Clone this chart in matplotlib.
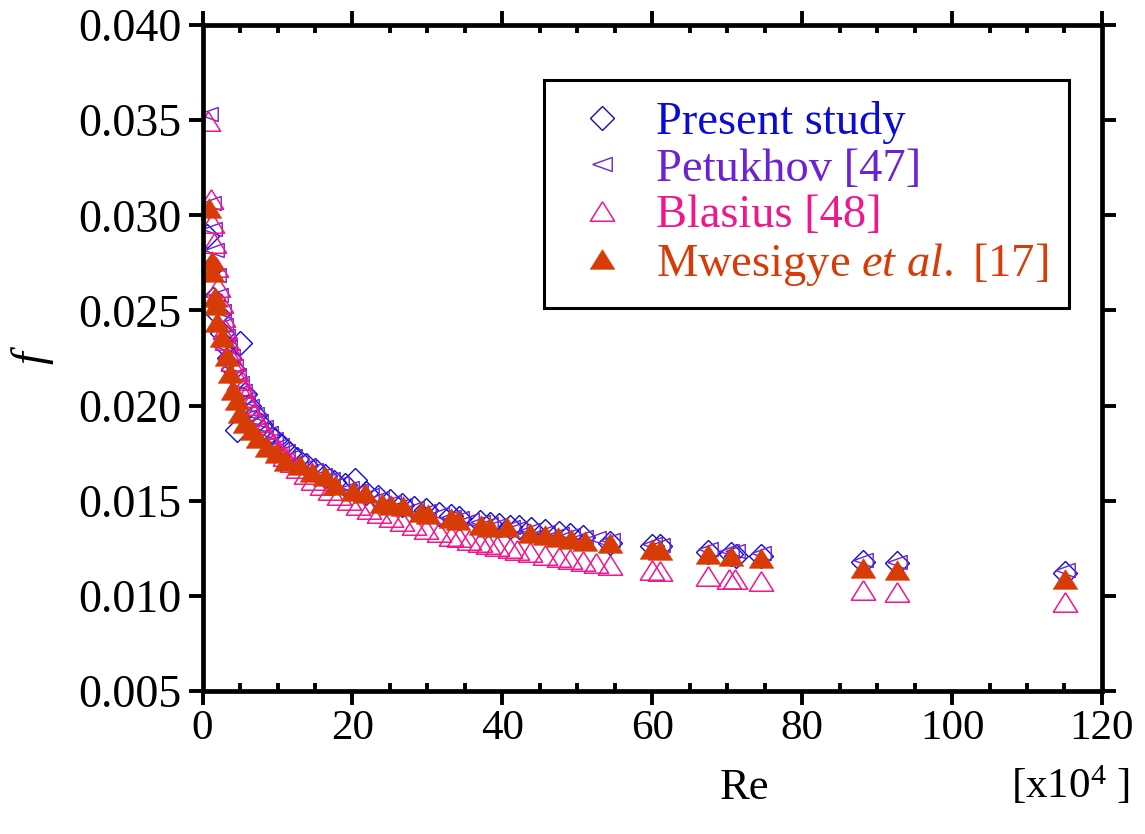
import matplotlib
matplotlib.use('Agg')
import matplotlib.pyplot as plt
from matplotlib.ticker import MultipleLocator

plt.rcParams['font.family'] = ['Liberation Serif', 'DejaVu Serif']
plt.rcParams['mathtext.fontset'] = 'custom'
plt.rcParams['mathtext.rm'] = 'Liberation Serif'
plt.rcParams['mathtext.it'] = 'Liberation Serif:italic'

# Re [x10^4] at which the correlations are evaluated
re_corr = [0.67, 1.1, 1.3, 1.5, 1.8, 2.1, 2.4, 2.7, 3.0, 3.3, 3.6, 4.0, 4.4, 4.8, 5.2,
           5.7, 6.2, 6.8, 7.4, 8.0, 8.7, 9.4, 10.2, 11.0, 11.9, 12.8, 13.8, 14.8, 15.9,
           17.0, 18.2, 19.5, 20.8, 22.2, 23.6, 25.1, 26.6, 28.2, 29.8, 31.5, 33.2, 34.2,
           35.5, 37.0, 38.1, 39.3, 41.0, 42.0, 43.7, 45.7, 47.5, 49.0, 50.7, 52.5, 54.3,
           60.0, 61.0, 67.5, 70.3, 71.0, 74.5, 88.1, 92.7, 115.1]
f_petukhov = [0.03534, 0.03066, 0.02929, 0.02818, 0.02687, 0.02583, 0.02497, 0.02426,
              0.02364, 0.02310, 0.02263, 0.02207, 0.02158, 0.02116, 0.02077, 0.02034,
              0.01996, 0.01956, 0.01920, 0.01887, 0.01854, 0.01823, 0.01792, 0.01763,
              0.01735, 0.01709, 0.01682, 0.01659, 0.01635, 0.01613, 0.01591, 0.01569,
              0.01549, 0.01530, 0.01512, 0.01494, 0.01477, 0.01461, 0.01445, 0.01430,
              0.01416, 0.01408, 0.01399, 0.01388, 0.01380, 0.01372, 0.01362, 0.01356,
              0.01346, 0.01335, 0.01325, 0.01318, 0.01310, 0.01302, 0.01294, 0.01271,
              0.01267, 0.01245, 0.01236, 0.01234, 0.01223, 0.01188, 0.01178, 0.01135]
f_blasius = [0.03493, 0.03086, 0.02959, 0.02855, 0.02728, 0.02625, 0.02539, 0.02465,
             0.02401, 0.02345, 0.02294, 0.02234, 0.02182, 0.02135, 0.02093, 0.02045,
             0.02003, 0.01957, 0.01916, 0.01879, 0.01840, 0.01805, 0.01768, 0.01735,
             0.01701, 0.01671, 0.01639, 0.01611, 0.01583, 0.01556, 0.01530, 0.01504,
             0.01480, 0.01456, 0.01434, 0.01412, 0.01391, 0.01371, 0.01353, 0.01334,
             0.01317, 0.01307, 0.01295, 0.01281, 0.01272, 0.01262, 0.01249, 0.01241,
             0.01229, 0.01215, 0.01204, 0.01194, 0.01184, 0.01174, 0.01164, 0.01135,
             0.01131, 0.01102, 0.01091, 0.01089, 0.01076, 0.01031, 0.01018, 0.00965]

# present study
re_present = [0.64, 1.0, 1.4, 2.0, 2.6, 3.0, 3.5, 4.0, 4.6, 5.0, 5.6, 6.2, 7.0, 7.8, 8.7,
              9.6, 10.6, 11.6, 12.6, 13.8, 15.0, 16.3, 17.6, 19.0, 20.4, 21.8, 23.4, 25.0,
              26.6, 28.2, 29.8, 31.5, 33.2, 34.2, 37.0, 38.3, 39.5, 41.0, 42.2, 43.8, 45.7,
              47.5, 49.0, 50.7, 54.3, 60.0, 61.0, 67.5, 70.5, 71.2, 74.5, 88.1, 92.7, 115.1]
f_present = [0.0289, 0.0272, 0.0256, 0.0248, 0.0238, 0.0232, 0.0225, 0.0219, 0.0187,
             0.0233, 0.0206, 0.0200, 0.0195, 0.0190, 0.0185, 0.0182, 0.0179, 0.0175,
             0.0172, 0.0169, 0.0166, 0.0163, 0.0160, 0.0158, 0.0161, 0.0154, 0.0152,
             0.0150, 0.0148, 0.0146, 0.0145, 0.0143, 0.0142, 0.0141, 0.0139, 0.0138,
             0.0137, 0.0136, 0.0136, 0.0135, 0.0134, 0.0133, 0.0132, 0.0131, 0.0128,
             0.0126, 0.0126, 0.0123, 0.0122, 0.0121, 0.0121, 0.0118, 0.0117, 0.0112]

# Mwesigye et al. [17]
re_mwesigye = [0.8, 1.2, 1.25, 1.7, 1.75, 1.95, 2.6, 3.2, 3.7, 4.1, 4.6, 5.0, 5.7, 6.6,
               7.4, 8.6, 9.9, 11.2, 13.0, 14.6, 16.3, 17.7, 20.1, 21.7, 23.9, 25.2, 26.8,
               29.2, 30.1, 33.2, 34.1, 37.2, 38.3, 40.6, 43.7, 45.7, 47.4, 49.2, 51.0,
               54.3, 60.0, 61.0, 67.5, 70.5, 74.5, 88.1, 92.7, 115.1]
f_mwesigye = [0.0304, 0.0276, 0.0270, 0.0257, 0.0253, 0.0244, 0.0236, 0.0226, 0.0217,
              0.0208, 0.0203, 0.0196, 0.0191, 0.0187, 0.0183, 0.0178, 0.0175, 0.0171,
              0.0169, 0.0165, 0.0163, 0.0158, 0.0155, 0.0154, 0.0149, 0.0148, 0.0147,
              0.0144, 0.0143, 0.0141, 0.0140, 0.0137, 0.0136, 0.0136, 0.0133, 0.0132,
              0.0131, 0.0130, 0.0129, 0.0128, 0.01245, 0.0124, 0.0122, 0.0121, 0.0120,
              0.01146, 0.01136, 0.0109]

c_present = '#0a0ad8'
c_petukhov = '#6c22d4'
c_blasius = '#f0168c'
c_mwesigye = '#d83c06'

# wide, flat triangles like the original markers
tri_left = [(-1, 0), (1, 0.72), (1, -0.72), (-1, 0)]
tri_up = [(0, 0.8), (-1, -0.8), (1, -0.8), (0, 0.8)]

fig = plt.figure(figsize=(11.45, 8.34), dpi=100)
ax = fig.add_axes([0.1769, 0.1715, 0.7855, 0.7985])

ax.plot(re_present, f_present, linestyle='none', marker='D', markersize=12.2,
        markerfacecolor='none', markeredgecolor=c_present, markeredgewidth=1.0,
        label='Present study')
ax.plot(re_corr, f_petukhov, linestyle='none', marker=tri_left, markersize=14,
        markerfacecolor='none', markeredgecolor=c_petukhov, markeredgewidth=1.0,
        label='Petukhov [47]')
ax.plot(re_corr, f_blasius, linestyle='none', marker=tri_up, markersize=17.5,
        markerfacecolor='none', markeredgecolor=c_blasius, markeredgewidth=1.1,
        label='Blasius [48]')
ax.plot(re_mwesigye, f_mwesigye, linestyle='none', marker=tri_up, markersize=17.5,
        markerfacecolor=c_mwesigye, markeredgecolor=c_mwesigye, markeredgewidth=0.5,
        label='Mwesigye $\\mathit{et\\ al.}$ [17]')

ax.set_xlim(0, 120)
ax.set_ylim(0.005, 0.040)
ax.xaxis.set_major_locator(MultipleLocator(20))
ax.xaxis.set_minor_locator(MultipleLocator(5))
ax.yaxis.set_major_locator(MultipleLocator(0.005))
ax.yaxis.set_major_formatter(matplotlib.ticker.FormatStrFormatter('%.3f'))

for side in ['left', 'right', 'top', 'bottom']:
    ax.spines[side].set_linewidth(3.4)

ax.tick_params(which='major', direction='out', length=10, width=2.8,
               top=True, right=True, labelsize=33)
ax.tick_params(which='minor', direction='in', length=6, width=2.8,
               top=True, right=True)
ax.tick_params(axis='x', which='major', pad=3, labelsize=31)
ax.tick_params(axis='y', which='major', pad=5)

ax.set_ylabel('f', fontsize=33, fontstyle='italic', labelpad=18)
ax.set_xlabel('Re', fontsize=32)
ax.xaxis.set_label_coords(0.603, -0.115)
fig.text(0.935, 0.043, '[x10$^4$ ]', fontsize=31, ha='center', va='baseline')

leg = ax.legend(loc='upper right', bbox_to_anchor=(0.963, 0.917), fontsize=33.5,
                frameon=True, fancybox=False, edgecolor='black', framealpha=1,
                borderaxespad=0, handletextpad=0.35, labelspacing=0.08,
                borderpad=0.45, handlelength=1.6)
leg.get_frame().set_linewidth(2.2)
for txt, col in zip(leg.get_texts(), [c_present, c_petukhov, c_blasius, c_mwesigye]):
    txt.set_color(col)

plt.savefig('out.png', dpi=100)
